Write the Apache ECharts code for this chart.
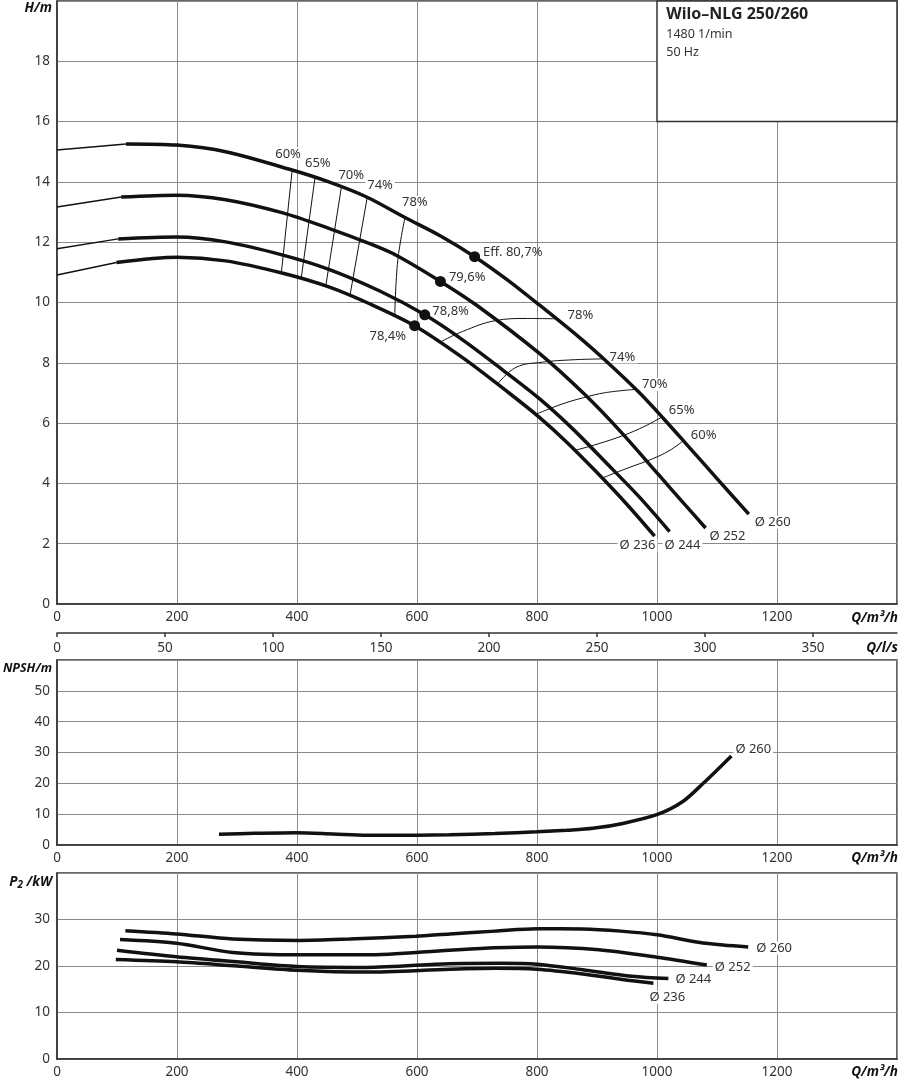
<!DOCTYPE html>
<html><head><meta charset="utf-8">
<script src="https://cdn.jsdelivr.net/npm/echarts@6/dist/echarts.min.js"></script>
<style>html,body{margin:0;padding:0;background:#fff}#c{width:899px;height:1080px}</style>
</head><body><div id="c"></div>
<script>
// ---------------- DATA ----------------
// Q/H curves (m³/h, m): thin part outside operating range, thick operating part
const h260ThinQ = [0, 115];            const h260ThinH = [15.06, 15.26];
const h260Q = [115, 200, 281, 389, 453, 516, 580, 640, 696, 750, 800, 870, 920, 970, 1010, 1050, 1100, 1153];
const h260H = [15.26, 15.22, 15.0, 14.41, 14.0, 13.5, 12.82, 12.2, 11.52, 10.76, 9.98, 8.85, 7.97, 7.02, 6.17, 5.28, 4.16, 2.98];
const h252ThinQ = [0, 107];            const h252ThinH = [13.17, 13.5];
const h252Q = [107, 200, 281, 375, 453, 520, 566, 639, 700, 804, 881, 942, 1003, 1045, 1081];
const h252H = [13.5, 13.56, 13.41, 12.98, 12.46, 11.96, 11.56, 10.70, 9.90, 8.31, 6.92, 5.66, 4.28, 3.33, 2.52];
const h244ThinQ = [0, 102];            const h244ThinH = [11.78, 12.11];
const h244Q = [102, 200, 281, 375, 453, 538, 613, 676, 743, 804, 860, 914, 970, 1021];
const h244H = [12.11, 12.17, 12.01, 11.58, 11.1, 10.38, 9.59, 8.76, 7.76, 6.81, 5.80, 4.71, 3.56, 2.40];
const h236ThinQ = [0, 99];             const h236ThinH = [10.91, 11.33];
const h236Q = [99, 200, 281, 375, 453, 522, 596, 676, 754, 804, 850, 898, 950, 996];
const h236H = [11.33, 11.5, 11.38, 10.98, 10.52, 9.95, 9.23, 8.17, 6.99, 6.19, 5.36, 4.40, 3.30, 2.25];
const diaLabels = ['Ø 260', 'Ø 252', 'Ø 244', 'Ø 236'];

// best efficiency points
const effQ = [696, 639, 613, 596];
const effH = [11.52, 10.70, 9.59, 9.23];
const effText = ['Eff. 80,7%', '79,6%', '78,8%', '78,4%'];

// iso-efficiency lines, left group (from Ø236 up to Ø260)
const isoLeftText = ['60%', '65%', '70%', '74%', '78%'];
const isoL60Q = [374, 392];        const isoL60H = [11.0, 14.4];
const isoL65Q = [407, 430];        const isoL65H = [10.8, 14.14];
const isoL70Q = [448, 474];        const isoL70H = [10.55, 13.83];
const isoL74Q = [488, 517];        const isoL74H = [10.2, 13.48];
const isoL78Q = [563, 568, 580];   const isoL78H = [9.62, 11.4, 12.82];
// iso-efficiency lines, right group (from Ø236 to Ø260)
const isoRightText = ['78%', '74%', '70%', '65%', '60%'];
const isoR78Q = [638, 676, 731, 780, 831];   const isoR78H = [8.68, 9.04, 9.40, 9.47, 9.46];
const isoR74Q = [734, 765, 809, 860, 911];   const isoR74H = [7.29, 7.85, 8.02, 8.10, 8.13];
const isoR70Q = [798, 840, 877, 914, 965];   const isoR70H = [6.29, 6.62, 6.84, 7.01, 7.12];
const isoR65Q = [864, 900, 945, 980, 1008];  const isoR65H = [5.10, 5.3, 5.6, 5.9, 6.2];
const isoR60Q = [909, 950, 993, 1020, 1043]; const isoR60H = [4.18, 4.5, 4.82, 5.08, 5.4];

// NPSH (m) Ø260
const npshQ = [270, 330, 399, 460, 516, 599, 654, 730, 800, 850, 893, 943, 1002, 1043, 1077, 1124];
const npshV = [3.5, 3.8, 4.0, 3.6, 3.2, 3.2, 3.3, 3.7, 4.3, 4.8, 5.4, 7.0, 10.0, 14.1, 20.0, 28.9];

// P2 (kW)
const p260Q = [114, 199, 293, 404, 487, 598, 655, 730, 800, 876, 940, 1000, 1069, 1110, 1152];
const p260V = [27.6, 26.9, 25.8, 25.5, 25.8, 26.4, 26.9, 27.5, 28.0, 27.96, 27.5, 26.7, 25.1, 24.5, 24.1];
const p252Q = [105, 199, 293, 404, 515, 654, 730, 800, 903, 1000, 1083];
const p252V = [25.7, 24.9, 22.9, 22.4, 22.4, 23.4, 23.9, 24.1, 23.5, 21.9, 20.2];
const p244Q = [100, 199, 300, 400, 515, 654, 738, 800, 876, 958, 1019];
const p244V = [23.4, 22.0, 20.9, 19.9, 19.7, 20.5, 20.6, 20.4, 19.2, 17.8, 17.3];
const p236Q = [98, 199, 300, 400, 515, 654, 730, 800, 876, 942, 994];
const p236V = [21.4, 20.9, 20.0, 19.1, 18.7, 19.3, 19.5, 19.3, 18.3, 17.1, 16.3];

// axes
const qMax = 1400;             // m³/h
const lsPerM3h = 1 / 3.6;      // l/s per m³/h
const infoBoxQ = [1000, 1400]; const infoBoxH = [16, 20];
const titleLines = ['Wilo–NLG 250/260', '1480 1/min', '50 Hz'];

// ---------------- CHART ----------------
const FONT = "'Noto Sans', 'DejaVu Sans', sans-serif";
const TXT = '#333';
const GRID_LEFT = 57, GRID_W = 840;
const zip = (a, b) => a.map((v, i) => [v, b[i]]);

function line(idx, xs, ys, width, extra) {
  return Object.assign({
    type: 'line', xAxisIndex: idx, yAxisIndex: idx, data: zip(xs, ys),
    showSymbol: false, symbol: 'none', smooth: 0.3,
    lineStyle: { color: '#111', width: width }, silent: true, animation: false, z: 3
  }, extra || {});
}
function endLbl(text, off) {
  return { show: true, formatter: text, distance: 0, offset: off, color: TXT,
    fontSize: 13, fontFamily: FONT, backgroundColor: '#fff', padding: [0, 2] };
}

const series = [];
// H curves
const hSets = [
  [h260ThinQ, h260ThinH, h260Q, h260H, [4, 8]],
  [h252ThinQ, h252ThinH, h252Q, h252H, [2, 8]],
  [h244ThinQ, h244ThinH, h244Q, h244H, [-7, 14]],
  [h236ThinQ, h236ThinH, h236Q, h236H, [-37, 9]]
];
hSets.forEach((s, i) => {
  series.push(line(0, s[0], s[1], 1.5, { smooth: false }));
  series.push(line(0, s[2], s[3], 3.5, { endLabel: endLbl(diaLabels[i], s[4]) }));
});
// info box as a markArea in data coords
series.push({
  type: 'line', xAxisIndex: 0, yAxisIndex: 0, data: [], silent: true, animation: false,
  markArea: {
    silent: true,
    itemStyle: { color: '#fff', borderColor: '#333', borderWidth: 1.5 },
    label: {
      show: true, position: 'insideTopLeft', distance: 0, padding: [3, 0, 0, 10],
      formatter: '{t|' + titleLines[0] + '}\n{n|' + titleLines[1] + '}\n{n|' + titleLines[2] + '}',
      rich: {
        t: { fontFamily: FONT, fontWeight: 'bold', fontSize: 16, color: '#222', lineHeight: 22 },
        n: { fontFamily: FONT, fontSize: 12.5, color: TXT, lineHeight: 18 }
      }
    },
    data: [[{ coord: [infoBoxQ[0], infoBoxH[1]] }, { coord: [infoBoxQ[1], infoBoxH[0]] }]]
  }
});
// iso lines left
const isoL = [[isoL60Q, isoL60H, [-19, -16]], [isoL65Q, isoL65H, [-12, -14]], [isoL70Q, isoL70H, [-5, -12]],
              [isoL74Q, isoL74H, [-2, -12]], [isoL78Q, isoL78H, [-5, -15]]];
isoL.forEach((s, i) => {
  series.push(line(0, s[0], s[1], 1, { smooth: s[0].length > 2 ? 0.4 : false, z: 2,
    endLabel: endLbl(isoLeftText[i], s[2]) }));
});
const isoR = [[isoR78Q, isoR78H, [10, -3]], [isoR74Q, isoR74H, [4, -2]], [isoR70Q, isoR70H, [4, -5]],
              [isoR65Q, isoR65H, [5, -7]], [isoR60Q, isoR60H, [6, -6]]];
isoR.forEach((s, i) => {
  series.push(line(0, s[0], s[1], 1, { smooth: 0.4, z: 2, endLabel: endLbl(isoRightText[i], s[2]) }));
});
// efficiency points
const effLabelCfg = [
  { position: 'right', distance: 3, offset: [0, -4] },
  { position: 'right', distance: 3, offset: [0, -4] },
  { position: 'right', distance: 2, offset: [0, -4] },
  { position: 'left', distance: 3, offset: [0, 11] }
];
series.push({
  type: 'scatter', xAxisIndex: 0, yAxisIndex: 0, symbolSize: 11, silent: true, animation: false, z: 5,
  itemStyle: { color: '#111', opacity: 1 },
  data: effQ.map((q, i) => ({
    value: [q, effH[i]],
    label: Object.assign({ show: true, formatter: effText[i], color: TXT, fontSize: 13, fontFamily: FONT }, effLabelCfg[i])
  }))
});
// NPSH
series.push(line(2, npshQ, npshV, 3.5, { endLabel: endLbl('Ø 260', [2, -7]) }));
// P2
series.push(line(3, p260Q, p260V, 3.5, { endLabel: endLbl('Ø 260', [6, 1]) }));
series.push(line(3, p252Q, p252V, 3.5, { endLabel: endLbl('Ø 252', [6, 2]) }));
series.push(line(3, p244Q, p244V, 3.5, { endLabel: endLbl('Ø 244', [5, 1]) }));
series.push(line(3, p236Q, p236V, 3.5, { endLabel: endLbl('Ø 236', [-6, 14]) }));

const axLabel = (margin) => ({ color: TXT, fontSize: 13.5, fontFamily: FONT, margin: margin,
  showMaxLabel: false, formatter: (v) => String(v) });
const split = { show: true, lineStyle: { color: '#8a8a8a', width: 1 } };
const axLine = { show: true, onZero: false, lineStyle: { color: '#333', width: 1.5 } };

function qAxis(idx) {
  return { type: 'value', gridIndex: idx, min: 0, max: qMax, interval: 200, axisLine: axLine,
    axisTick: { show: false }, splitLine: split, axisLabel: axLabel(6) };
}
function vAxis(idx, max, interval) {
  return { type: 'value', gridIndex: idx, min: 0, max: max, interval: interval, axisLine: axLine,
    axisTick: { show: false }, splitLine: split, axisLabel: axLabel(7) };
}
const gridBase = { left: GRID_LEFT, width: GRID_W, show: true, borderColor: '#333', borderWidth: 1.5, backgroundColor: '#fff' };

const nameFont = (sz) => 'italic bold ' + sz + 'px ' + FONT;
const option = {
  animation: false,
  backgroundColor: '#fff',
  grid: [
    Object.assign({}, gridBase, { top: 1, height: 603 }),
    { left: GRID_LEFT, width: GRID_W, top: 623, height: 10, show: false },
    Object.assign({}, gridBase, { top: 660, height: 185 }),
    Object.assign({}, gridBase, { top: 873, height: 186 })
  ],
  xAxis: [
    qAxis(0),
    { type: 'value', gridIndex: 1, min: 0, max: qMax * lsPerM3h, interval: 50, position: 'bottom',
      axisLine: axLine, axisTick: { show: true, length: 4, lineStyle: { color: '#333', width: 1.5 } },
      splitLine: { show: false }, axisLabel: axLabel(8) },
    qAxis(2),
    qAxis(3)
  ],
  yAxis: [
    vAxis(0, 20, 2),
    { type: 'value', gridIndex: 1, show: false, min: 0, max: 1 },
    vAxis(2, 60, 10),
    vAxis(3, 40, 10)
  ],
  graphic: [
    { type: 'text', x: 52, y: 8, style: { text: 'H/m', align: 'right', verticalAlign: 'middle', font: nameFont(13.5), fill: '#111' } },
    { type: 'text', x: 52, y: 668, style: { text: 'NPSH/m', align: 'right', verticalAlign: 'middle', font: nameFont(12.5), fill: '#111' } },
    { type: 'text', x: 52, y: 882, style: {
        text: '{p|P}{s|2}{u| /kW}', align: 'right', verticalAlign: 'middle',
        rich: {
          p: { font: nameFont(13.5), fill: '#111', verticalAlign: 'middle' },
          s: { font: nameFont(10), fill: '#111', verticalAlign: 'bottom', padding: [6, 0, 0, 0] },
          u: { font: nameFont(13.5), fill: '#111', verticalAlign: 'middle' }
        } } },
    { type: 'text', x: 898, y: 618, style: { text: 'Q/m³/h', align: 'right', verticalAlign: 'middle', font: nameFont(13.5), fill: '#111' } },
    { type: 'text', x: 898, y: 648, style: { text: 'Q/l/s', align: 'right', verticalAlign: 'middle', font: nameFont(13.5), fill: '#111' } },
    { type: 'text', x: 898, y: 858, style: { text: 'Q/m³/h', align: 'right', verticalAlign: 'middle', font: nameFont(13.5), fill: '#111' } },
    { type: 'text', x: 898, y: 1072, style: { text: 'Q/m³/h', align: 'right', verticalAlign: 'middle', font: nameFont(13.5), fill: '#111' } }
  ],
  series: series
};
const chart = echarts.init(document.getElementById('c'), null, { renderer: 'canvas' });
chart.setOption(option);
</script>
</body></html>
